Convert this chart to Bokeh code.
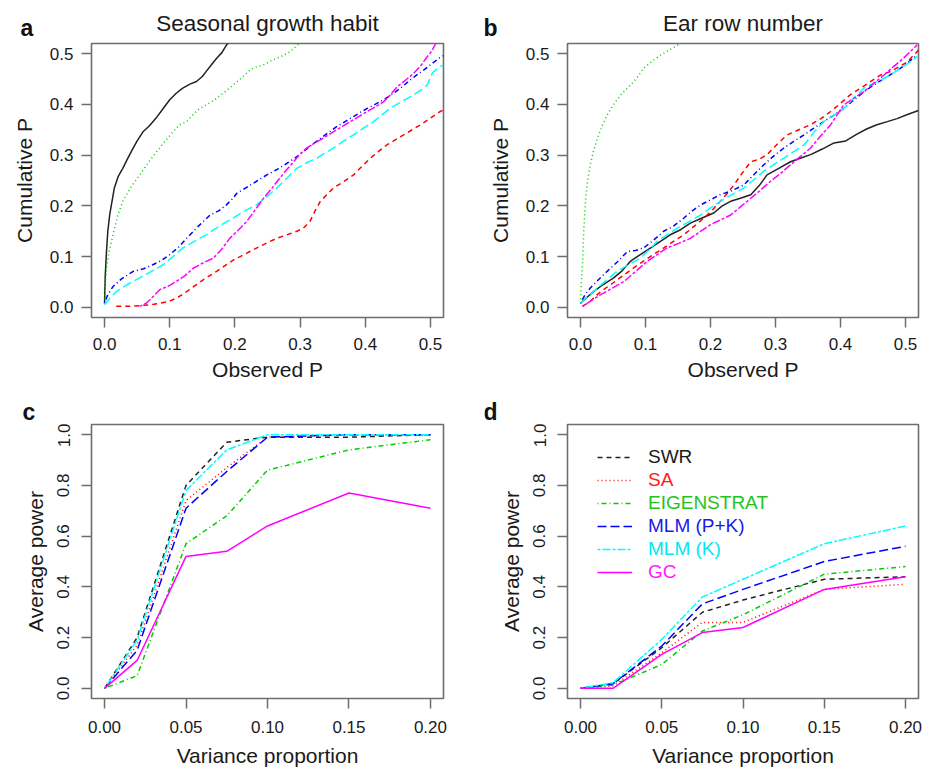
from bokeh.plotting import figure
from bokeh.layouts import column, row
from bokeh.models import Range1d, FixedTicker, PrintfTickFormatter, Label, Legend, LegendItem
from bokeh.embed import file_html
from bokeh.resources import INLINE

# ---------------- data ----------------
METHODS = ["SWR", "SA", "EIGENSTRAT", "MLM (P+K)", "MLM (K)", "GC"]

# panel a: Seasonal growth habit (observed P vs cumulative P)
A_SWR_X = [0, 0.001, 0.003, 0.005, 0.008, 0.015, 0.021, 0.028, 0.035, 0.041, 0.050, 0.059, 0.069, 0.079,
           0.090, 0.100, 0.110, 0.120, 0.131, 0.141, 0.150, 0.156, 0.164, 0.172, 0.180, 0.187, 0.196]
A_SWR_Y = [0.008, 0.06, 0.11, 0.15, 0.183, 0.235, 0.258, 0.274, 0.292, 0.307, 0.328, 0.346, 0.358, 0.373,
           0.392, 0.409, 0.422, 0.432, 0.440, 0.445, 0.455, 0.465, 0.478, 0.491, 0.502, 0.517, 0.53]
A_SA_X = [0.018, 0.040, 0.069, 0.085, 0.100, 0.113, 0.126, 0.141, 0.156, 0.172, 0.187, 0.200, 0.208, 0.223,
          0.238, 0.251, 0.264, 0.280, 0.295, 0.305, 0.315, 0.323, 0.331, 0.341, 0.351, 0.367, 0.382, 0.395,
          0.408, 0.420, 0.433, 0.446, 0.459, 0.472, 0.485, 0.500, 0.515, 0.52]
A_SA_Y = [0.002, 0.002, 0.005, 0.008, 0.012, 0.020, 0.031, 0.045, 0.058, 0.071, 0.084, 0.095, 0.100, 0.110,
          0.120, 0.128, 0.136, 0.143, 0.150, 0.156, 0.169, 0.19, 0.209, 0.222, 0.235, 0.248, 0.261, 0.278,
          0.294, 0.307, 0.32, 0.33, 0.34, 0.35, 0.36, 0.373, 0.386, 0.389]
A_EIG_X = [0, 0.001, 0.003, 0.007, 0.013, 0.020, 0.028, 0.040, 0.054, 0.067, 0.080, 0.092, 0.105, 0.115,
           0.126, 0.136, 0.146, 0.159, 0.172, 0.185, 0.197, 0.210, 0.223, 0.233, 0.244, 0.254, 0.264, 0.275,
           0.285, 0.297, 0.305]
A_EIG_Y = [0.008, 0.04, 0.077, 0.11, 0.143, 0.18, 0.209, 0.236, 0.261, 0.285, 0.307, 0.326, 0.346, 0.36,
           0.366, 0.38, 0.392, 0.401, 0.412, 0.425, 0.438, 0.452, 0.468, 0.474, 0.478, 0.485, 0.491, 0.497,
           0.504, 0.518, 0.53]
A_MPK_X = [0, 0.005, 0.013, 0.025, 0.044, 0.060, 0.074, 0.087, 0.100, 0.113, 0.126, 0.144, 0.162, 0.175,
           0.187, 0.197, 0.203, 0.220, 0.235, 0.249, 0.265, 0.280, 0.293, 0.305, 0.318, 0.331, 0.344, 0.356,
           0.369, 0.382, 0.392, 0.403, 0.415, 0.428, 0.441, 0.454, 0.467, 0.479, 0.490, 0.500, 0.514, 0.52]
A_MPK_Y = [0.008, 0.025, 0.041, 0.055, 0.071, 0.076, 0.084, 0.092, 0.104, 0.118, 0.136, 0.160, 0.182, 0.190,
           0.202, 0.215, 0.225, 0.238, 0.250, 0.261, 0.272, 0.284, 0.295, 0.307, 0.320, 0.333, 0.345, 0.356,
           0.366, 0.376, 0.384, 0.392, 0.400, 0.409, 0.420, 0.432, 0.446, 0.458, 0.468, 0.478, 0.492, 0.496]
A_MK_X = [0, 0.008, 0.018, 0.035, 0.054, 0.072, 0.090, 0.105, 0.120, 0.138, 0.156, 0.176, 0.197, 0.215,
          0.233, 0.249, 0.264, 0.280, 0.295, 0.310, 0.326, 0.338, 0.351, 0.366, 0.382, 0.397, 0.413, 0.426,
          0.438, 0.454, 0.469, 0.483, 0.495, 0.503, 0.515, 0.52]
A_MK_Y = [0.005, 0.018, 0.031, 0.045, 0.058, 0.071, 0.084, 0.100, 0.117, 0.130, 0.143, 0.160, 0.176, 0.190,
          0.202, 0.218, 0.235, 0.255, 0.274, 0.285, 0.294, 0.304, 0.314, 0.327, 0.340, 0.353, 0.366, 0.380,
          0.392, 0.404, 0.415, 0.426, 0.438, 0.462, 0.475, 0.478]
A_GC_X = [0.054, 0.064, 0.075, 0.085, 0.098, 0.110, 0.123, 0.136, 0.152, 0.167, 0.180, 0.192, 0.205, 0.218,
          0.231, 0.244, 0.257, 0.269, 0.280, 0.290, 0.300, 0.310, 0.320, 0.331, 0.341, 0.351, 0.364, 0.377,
          0.390, 0.403, 0.415, 0.428, 0.438, 0.449, 0.462, 0.474, 0.485, 0.495, 0.502, 0.508, 0.515]
A_GC_Y = [0.002, 0.008, 0.022, 0.035, 0.042, 0.051, 0.062, 0.077, 0.088, 0.097, 0.115, 0.136, 0.152, 0.169,
          0.192, 0.215, 0.235, 0.255, 0.272, 0.287, 0.302, 0.314, 0.322, 0.33, 0.338, 0.346, 0.356, 0.366,
          0.376, 0.386, 0.395, 0.405, 0.418, 0.435, 0.448, 0.461, 0.476, 0.494, 0.505, 0.52, 0.54]

# panel b: Ear row number
B_SWR_X = [0, 0.01, 0.020, 0.035, 0.051, 0.064, 0.077, 0.092, 0.108, 0.123, 0.138, 0.154, 0.169, 0.187,
           0.205, 0.218, 0.231, 0.246, 0.262, 0.275, 0.287, 0.305, 0.323, 0.338, 0.354, 0.372, 0.390, 0.408,
           0.426, 0.441, 0.456, 0.472, 0.487, 0.503, 0.52]
B_SWR_Y = [0.008, 0.02, 0.031, 0.045, 0.058, 0.072, 0.091, 0.104, 0.117, 0.130, 0.143, 0.153, 0.166, 0.176,
           0.186, 0.200, 0.209, 0.215, 0.222, 0.240, 0.261, 0.274, 0.287, 0.294, 0.301, 0.312, 0.324, 0.328,
           0.342, 0.352, 0.360, 0.366, 0.372, 0.380, 0.388]
B_SA_X = [0.003, 0.015, 0.031, 0.050, 0.067, 0.082, 0.097, 0.112, 0.128, 0.143, 0.159, 0.175, 0.190, 0.203,
          0.215, 0.226, 0.236, 0.249, 0.262, 0.275, 0.287, 0.303, 0.318, 0.336, 0.354, 0.370, 0.385, 0.400,
          0.415, 0.431, 0.446, 0.462, 0.477, 0.490, 0.503, 0.52]
B_SA_Y = [0.002, 0.012, 0.031, 0.048, 0.064, 0.078, 0.091, 0.104, 0.117, 0.130, 0.143, 0.160, 0.176, 0.192,
          0.209, 0.225, 0.241, 0.265, 0.287, 0.292, 0.301, 0.322, 0.340, 0.350, 0.360, 0.372, 0.386, 0.402,
          0.419, 0.432, 0.445, 0.458, 0.465, 0.474, 0.484, 0.507]
B_EIG_X = [0, 0.001, 0.003, 0.005, 0.008, 0.011, 0.015, 0.020, 0.026, 0.033, 0.041, 0.051, 0.062, 0.072,
           0.082, 0.090, 0.097, 0.110, 0.123, 0.138, 0.154, 0.16]
B_EIG_Y = [0.008, 0.04, 0.084, 0.15, 0.215, 0.25, 0.281, 0.308, 0.333, 0.357, 0.379, 0.400, 0.419, 0.432,
           0.445, 0.458, 0.471, 0.485, 0.497, 0.508, 0.52, 0.53]
B_MPK_X = [0, 0.007, 0.015, 0.028, 0.041, 0.057, 0.072, 0.085, 0.097, 0.112, 0.128, 0.143, 0.159, 0.172,
           0.185, 0.200, 0.215, 0.233, 0.251, 0.267, 0.282, 0.297, 0.313, 0.328, 0.344, 0.359, 0.374, 0.390,
           0.405, 0.420, 0.436, 0.451, 0.467, 0.480, 0.492, 0.505, 0.518]
B_MPK_Y = [0.008, 0.025, 0.038, 0.055, 0.071, 0.090, 0.110, 0.112, 0.117, 0.132, 0.150, 0.160, 0.176, 0.190,
           0.202, 0.212, 0.222, 0.230, 0.241, 0.262, 0.281, 0.298, 0.314, 0.327, 0.340, 0.353, 0.366, 0.379,
           0.392, 0.408, 0.425, 0.438, 0.451, 0.461, 0.471, 0.484, 0.497]
B_MK_X = [0, 0.012, 0.026, 0.041, 0.056, 0.074, 0.092, 0.105, 0.118, 0.133, 0.149, 0.167, 0.185, 0.200,
          0.215, 0.233, 0.251, 0.267, 0.282, 0.297, 0.313, 0.328, 0.344, 0.359, 0.374, 0.390, 0.405, 0.420,
          0.436, 0.451, 0.467, 0.480, 0.492, 0.505, 0.518]
B_MK_Y = [0.008, 0.022, 0.038, 0.055, 0.071, 0.084, 0.097, 0.113, 0.130, 0.143, 0.156, 0.169, 0.182, 0.196,
          0.209, 0.222, 0.235, 0.252, 0.268, 0.281, 0.294, 0.307, 0.320, 0.345, 0.366, 0.379, 0.392, 0.412,
          0.432, 0.442, 0.451, 0.461, 0.471, 0.482, 0.494]
B_GC_X = [0.003, 0.015, 0.031, 0.049, 0.067, 0.085, 0.103, 0.118, 0.133, 0.151, 0.169, 0.185, 0.200, 0.215,
          0.231, 0.246, 0.262, 0.277, 0.292, 0.308, 0.323, 0.338, 0.354, 0.369, 0.385, 0.395, 0.405, 0.420,
          0.436, 0.451, 0.467, 0.482, 0.497, 0.508, 0.518]
B_GC_Y = [0.002, 0.012, 0.025, 0.038, 0.051, 0.071, 0.091, 0.104, 0.117, 0.126, 0.136, 0.150, 0.163, 0.172,
          0.182, 0.198, 0.215, 0.231, 0.248, 0.264, 0.281, 0.297, 0.314, 0.337, 0.360, 0.380, 0.399, 0.412,
          0.425, 0.441, 0.458, 0.475, 0.491, 0.505, 0.517]

# panels c, d: average power vs variance proportion
VAR = [0, 0.02, 0.05, 0.075, 0.1, 0.15, 0.2]
C_SWR = [0, 0.20, 0.80, 0.97, 0.99, 0.99, 1.0]
C_SA = [0, 0.17, 0.74, 0.87, 0.99, 1.0, 1.0]
C_EIG = [0, 0.05, 0.57, 0.68, 0.86, 0.94, 0.98]
C_MPK = [0, 0.15, 0.71, 0.855, 0.99, 1.0, 1.0]
C_MK = [0, 0.19, 0.78, 0.94, 1.0, 1.0, 1.0]
C_GC = [0, 0.11, 0.52, 0.54, 0.64, 0.77, 0.71]
D_SWR = [0, 0.018, 0.16, 0.30, 0.348, 0.43, 0.44]
D_SA = [0, 0.01, 0.14, 0.26, 0.26, 0.39, 0.41]
D_EIG = [0, 0.013, 0.094, 0.226, 0.29, 0.45, 0.48]
D_MPK = [0, 0.018, 0.167, 0.333, 0.39, 0.50, 0.56]
D_MK = [0, 0.022, 0.193, 0.36, 0.43, 0.57, 0.64]
D_GC = [0, 0.0, 0.134, 0.22, 0.24, 0.39, 0.44]

QQ_TICKS = [0, 0.1, 0.2, 0.3, 0.4, 0.5]
VAR_TICKS = [0, 0.05, 0.1, 0.15, 0.2]
POW_TICKS = [0, 0.2, 0.4, 0.6, 0.8, 1.0]
PANEL_LETTERS = ["a", "b", "c", "d"]
TITLES = ["Seasonal growth habit", "Ear row number"]

# ---------------- style ----------------
COLORS = ["#222222", "#ff0000", "#00cd00", "#0000ff", "#00ffff", "#ff00ff"]
LABEL_COLORS = ["#1a1a1a", "#ff1a1a", "#1fc41f", "#1a1ae6", "#00e6f0", "#ff1aff"]
DASH_QQ = ["solid", "5 4", "1 3", "1 3 5 3", "9 4", "3 2 8 2"]
DASH_POW = ["5 4", "1 3", "1 3 5 3", "9 4", "3 2 8 2", "solid"]
FONT = "Liberation Sans"
TXT = "#1a1a1a"
GRAY = "#6e6e6e"

W_LEFT, W_RIGHT = 484, 443
HEAD_TOP, HEAD_BOT = 42, 36
MAIN_TOP, MAIN_BOT = 345, 349


def make_fig(width, height, left, right, bottom, xr, yr, xticks, yticks, xfmt, yfmt,
             xlabel, ylabel, vertical_y):
    p = figure(width=width, height=height, output_backend="svg", toolbar_location=None,
               x_range=Range1d(*xr), y_range=Range1d(*yr),
               min_border_left=left, min_border_right=right,
               min_border_top=1, min_border_bottom=bottom)
    p.grid.visible = False
    p.outline_line_color = GRAY
    p.outline_line_width = 1.6
    p.background_fill_color = "white"
    p.border_fill_color = "white"
    p.xaxis.ticker = FixedTicker(ticks=xticks)
    p.yaxis.ticker = FixedTicker(ticks=yticks)
    p.xaxis.formatter = PrintfTickFormatter(format=xfmt)
    p.yaxis.formatter = PrintfTickFormatter(format=yfmt)
    p.xaxis.axis_label = xlabel
    p.yaxis.axis_label = ylabel
    for ax in (p.xaxis[0], p.yaxis[0]):
        ax.axis_line_color = None
        ax.major_tick_line_color = GRAY
        ax.major_tick_line_width = 1.5
        ax.major_tick_in = 0
        ax.major_tick_out = 10
        ax.minor_tick_line_color = None
        ax.major_label_text_font = FONT
        ax.major_label_text_font_size = "17px"
        ax.major_label_text_color = TXT
        ax.axis_label_text_font = FONT
        ax.axis_label_text_font_size = "21px"
        ax.axis_label_text_font_style = "normal"
        ax.axis_label_text_color = TXT
    if vertical_y:
        p.yaxis.major_label_orientation = "vertical"
        p.yaxis.major_label_standoff = 12
        p.yaxis.axis_label_standoff = 8
        p.xaxis.major_label_standoff = 12
        p.xaxis.axis_label_standoff = 8
    else:
        p.yaxis.major_label_standoff = 8
        p.yaxis.axis_label_standoff = 11
        p.xaxis.major_label_standoff = 10
        p.xaxis.axis_label_standoff = 5
    return p


def header(width, height, letter, letter_x, letter_y, title=None, title_x=None, title_y=None):
    # strip above a panel holding the panel letter and the panel title
    h = figure(width=width, height=height, output_backend="svg", toolbar_location=None,
               x_range=Range1d(0, width), y_range=Range1d(0, height),
               x_axis_location=None, y_axis_location=None,
               min_border_left=0, min_border_right=0, min_border_top=0, min_border_bottom=0)
    h.grid.visible = False
    h.outline_line_color = None
    h.background_fill_color = "white"
    h.border_fill_color = "white"
    h.add_layout(Label(x=letter_x, y=letter_y, text=letter, text_font=FONT,
                       text_font_size="23px", text_font_style="bold", text_color="#111111",
                       text_baseline="alphabetic", text_align="left"))
    if title:
        h.add_layout(Label(x=title_x, y=title_y, text=title, text_font=FONT,
                           text_font_size="22.5px", text_font_style="normal", text_color=TXT,
                           text_baseline="alphabetic", text_align="center"))
    return h


ha = header(W_LEFT, HEAD_TOP, PANEL_LETTERS[0], 20, 15, TITLES[0], 267, 19)
hb = header(W_RIGHT, HEAD_TOP, PANEL_LETTERS[1], 483 - W_LEFT, 15, TITLES[1], 742.5 - W_LEFT, 19)
hc = header(W_LEFT, HEAD_BOT, PANEL_LETTERS[2], 22, 12)
hd = header(W_RIGHT, HEAD_BOT, PANEL_LETTERS[3], 483 - W_LEFT, 12)

pa = make_fig(W_LEFT, MAIN_TOP, 91, 41, 70, (-0.02, 0.52), (-0.02, 0.52), QQ_TICKS, QQ_TICKS,
              "%.1f", "%.1f", "Observed P", "Cumulative P", False)
pb = make_fig(W_RIGHT, MAIN_TOP, 83, 9, 70, (-0.02, 0.52), (-0.02, 0.52), QQ_TICKS, QQ_TICKS,
              "%.1f", "%.1f", "Observed P", "Cumulative P", False)
pc = make_fig(W_LEFT, MAIN_BOT, 91, 41, 74, (-0.008, 0.208), (-0.04, 1.04), VAR_TICKS, POW_TICKS,
              "%.2f", "%.1f", "Variance proportion", "Average power", True)
pd_ = make_fig(W_RIGHT, MAIN_BOT, 83, 9, 74, (-0.008, 0.208), (-0.04, 1.04), VAR_TICKS, POW_TICKS,
               "%.2f", "%.1f", "Variance proportion", "Average power", True)

qq_a = [(A_SWR_X, A_SWR_Y), (A_SA_X, A_SA_Y), (A_EIG_X, A_EIG_Y), (A_MPK_X, A_MPK_Y), (A_MK_X, A_MK_Y), (A_GC_X, A_GC_Y)]
qq_b = [(B_SWR_X, B_SWR_Y), (B_SA_X, B_SA_Y), (B_EIG_X, B_EIG_Y), (B_MPK_X, B_MPK_Y), (B_MK_X, B_MK_Y), (B_GC_X, B_GC_Y)]
for p, series in ((pa, qq_a), (pb, qq_b)):
    for i, (xs, ys) in enumerate(series):
        p.line(xs, ys, line_color=COLORS[i], line_dash=DASH_QQ[i], line_width=1.5)

pow_c = [C_SWR, C_SA, C_EIG, C_MPK, C_MK, C_GC]
pow_d = [D_SWR, D_SA, D_EIG, D_MPK, D_MK, D_GC]
for i, ys in enumerate(pow_c):
    pc.line(VAR, ys, line_color=COLORS[i], line_dash=DASH_POW[i], line_width=1.5)
d_renderers = []
for i, ys in enumerate(pow_d):
    d_renderers.append(pd_.line(VAR, ys, line_color=COLORS[i], line_dash=DASH_POW[i], line_width=1.5))

# legend in panel d: one legend per entry so each label keeps its own colour
for i, (name, r) in enumerate(zip(METHODS, d_renderers)):
    lg = Legend(items=[LegendItem(label=name, renderers=[r])], location=(30, 230 - 23 * i),
                padding=0, margin=0, spacing=0, border_line_color=None, background_fill_alpha=0,
                glyph_width=35, glyph_height=20, label_height=20, label_standoff=16,
                label_text_font=FONT, label_text_font_size="19px", label_text_color=LABEL_COLORS[i],
                label_text_baseline="middle")
    pd_.add_layout(lg, "center")

layout = column(row(ha, hb), row(pa, pb), row(hc, hd), row(pc, pd_))
open("out.html", "w").write(file_html(layout, INLINE))
